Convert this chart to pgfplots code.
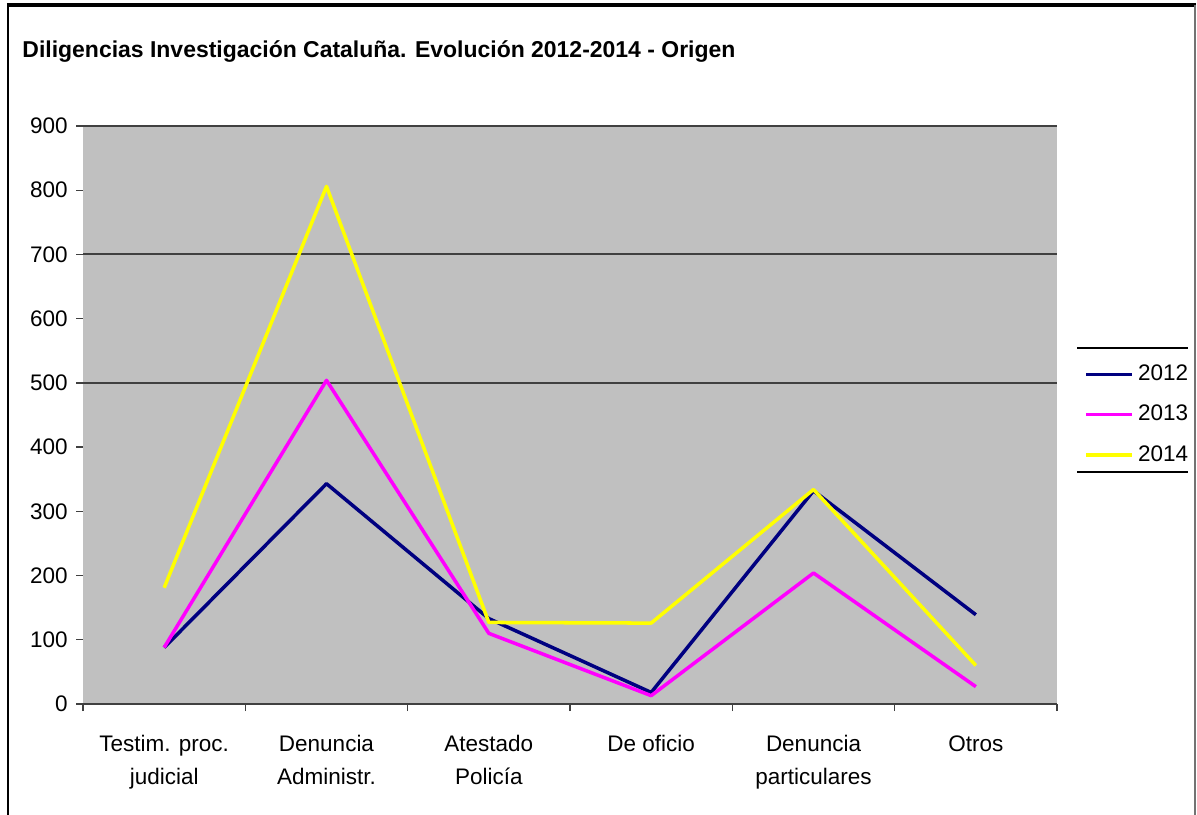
\documentclass[border=0pt]{standalone}
\usepackage{pgfplots}
\pgfplotsset{compat=1.18}
\usepackage{fontspec}
\setmainfont{Liberation Sans}

\definecolor{c2012}{RGB}{0,0,128}
\definecolor{c2013}{RGB}{255,0,255}
\definecolor{c2014}{RGB}{255,255,0}
\definecolor{plotbg}{RGB}{192,192,192}
\definecolor{gridc}{RGB}{64,64,64}

\begin{document}
\begin{tikzpicture}[x=0.015cm,y=0.015cm]
\useasboundingbox (-83,-110) rectangle (1114,704);
% outer frame (bottom edge lies outside the picture)
\draw[black, line width=1.2pt] (-75,-112) -- (-75,699);
\draw[black, line width=2pt] (-76,699) -- (1113,699);
\draw[black!55, line width=1pt] (1112,699) -- (1112,-112);
\node[anchor=base west, inner sep=0pt, font=\bfseries\fontsize{9.8}{12}\selectfont] at (-61,647)
  {Diligencias Investigación Cataluña. Evolución 2012-2014 - Origen};

\begin{axis}[
    at={(0,0)}, anchor=south west,
    scale only axis,
    width=14.61cm, height=8.67cm,
    xmin=-0.5, xmax=5.5,
    ymin=0, ymax=900,
    axis background/.style={fill=plotbg},
    separate axis lines,
    axis x line*=bottom,
    axis y line*=left,
    x axis line style={-, draw=gridc, line width=0.9pt},
    y axis line style={draw=none},
    ytick={0,100,...,900},
    tick align=outside,
    major tick length=0.105cm,
    tick style={gridc, line width=0.6pt},
    /pgf/number format/assume math mode=true,
    yticklabel style={font=\fontsize{9.6}{11}\selectfont},
    extra y ticks={500,700,900},
    extra y tick labels={},
    extra y tick style={grid=major, major grid style={gridc, line width=0.9pt}},
    xtick={-0.5,0.5,...,5.5},
    xticklabels={},
    extra x ticks={0,1,2,3,4,5},
    extra x tick labels={{Testim. proc.\\judicial},{Denuncia\\Administr.},{Atestado\\Policía},{De oficio},{Denuncia\\particulares},{Otros}},
    extra x tick style={major tick length=0pt},
    xticklabel style={font=\fontsize{9.6}{14}\selectfont, align=center, anchor=north, yshift=-0.35cm},
    legend style={at={(1.0205,0.604)}, anchor=north west, draw=none, fill=none,
      font=\fontsize{9.6}{11}\selectfont, row sep=5pt, name=leg},
    legend cell align=left,
    legend image code/.code={\draw[#1] (0cm,0cm) -- (0.68cm,0cm);},
    line join=round,
]
\addplot[c2012, line width=1.5pt] coordinates {(0,88) (1,343) (2,133) (3,18) (4,332) (5,139)};
\addplot[c2013, line width=1.5pt] coordinates {(0,88) (1,504) (2,110) (3,13) (4,204) (5,27)};
\addplot[c2014, line width=1.5pt] coordinates {(0,181) (1,806) (2,127) (3,126) (4,334) (5,60)};
\legend{2012,2013,2014}
\end{axis}
\draw[black, line width=0.6pt] (994,356) -- (1105,356);
\draw[black, line width=0.6pt] (994,232) -- (1105,232);
\end{tikzpicture}
\end{document}
